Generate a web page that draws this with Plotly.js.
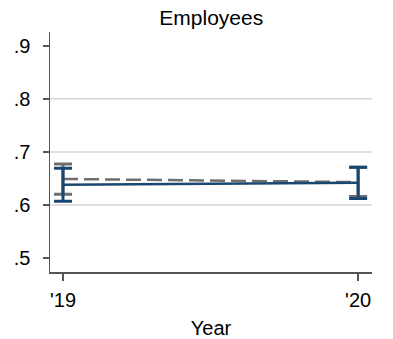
<!DOCTYPE html>
<html>
<head>
<meta charset="utf-8">
<script src="https://cdn.plot.ly/plotly-3.0.1.min.js"></script>
<style>html,body{margin:0;padding:0;background:#fff;}#chart{width:393px;height:339px;}</style>
</head>
<body>
<div id="chart"></div>
<script>
var years = [2019, 2020];
var yearLabels = ["'19", "'20"];
var yTicks = [0.5, 0.6, 0.7, 0.8, 0.9];
var yTickLabels = [".5", ".6", ".7", ".8", ".9"];
var gridValues = [0.6, 0.7, 0.8];

// dashed gray series
var grayMean = [0.649, 0.643];
var grayLow = [0.620, 0.616];
var grayHigh = [0.677, 0.671];

// solid blue series
var blueMean = [0.638, 0.642];
var blueLow = [0.607, 0.612];
var blueHigh = [0.669, 0.671];

function plus(hi, m) { return hi.map(function (v, i) { return v - m[i]; }); }
function minus(lo, m) { return m.map(function (v, i) { return v - lo[i]; }); }

var navy = '#1a476f';
var gray = '#6e6e6e';

var traces = [
  {
    x: years, y: grayMean, type: 'scatter', mode: 'lines',
    line: {color: gray, width: 2.5, dash: '15px,6px'},
    error_y: {type: 'data', symmetric: false, array: plus(grayHigh, grayMean), arrayminus: minus(grayLow, grayMean),
      color: gray, thickness: 3, width: 9},
    hoverinfo: 'skip', showlegend: false
  },
  {
    x: years, y: blueMean, type: 'scatter', mode: 'lines',
    line: {color: navy, width: 2.5},
    error_y: {type: 'data', symmetric: false, array: plus(blueHigh, blueMean), arrayminus: minus(blueLow, blueMean),
      color: navy, thickness: 3, width: 9},
    hoverinfo: 'skip', showlegend: false
  }
];

var shapes = gridValues.map(function (g) {
  return {type: 'line', xref: 'paper', x0: 0, x1: 1, yref: 'y', y0: g, y1: g,
    line: {color: '#d4d4d4', width: 1.5}, layer: 'below'};
});

var fam = 'Liberation Sans, Arial, sans-serif';

var layout = {
  width: 393, height: 339,
  margin: {l: 50, r: 21, t: 32, b: 67, pad: 0},
  paper_bgcolor: '#fff', plot_bgcolor: '#fff',
  font: {family: fam, size: 21, color: '#000'},
  title: {text: 'Employees', font: {family: fam, size: 21, color: '#000'},
    x: 0.5375, xanchor: 'center', y: 1 - 18 / 339, yanchor: 'middle'},
  xaxis: {
    range: [2018.956, 2020.047],
    tickvals: years, ticktext: yearLabels,
    showgrid: false, zeroline: false,
    showline: true, linecolor: '#555', linewidth: 1.5,
    ticks: 'outside', ticklen: 7, tickcolor: '#555', tickwidth: 1.5,
    ticklabelstandoff: 2,
    tickfont: {family: fam, size: 20, color: '#000'},
    title: {text: 'Year', font: {family: fam, size: 20, color: '#000'}, standoff: 11}
  },
  yaxis: {
    range: [0.4736, 0.926],
    tickvals: yTicks, ticktext: yTickLabels,
    showgrid: false, zeroline: false,
    showline: true, linecolor: '#555', linewidth: 1.5,
    ticks: 'outside', ticklen: 6, tickcolor: '#555', tickwidth: 1.5,
    ticklabelstandoff: 8,
    tickfont: {family: fam, size: 20, color: '#000'}
  },
  shapes: shapes
};

Plotly.newPlot('chart', traces, layout, {displayModeBar: false, staticPlot: true});
</script>
</body>
</html>
